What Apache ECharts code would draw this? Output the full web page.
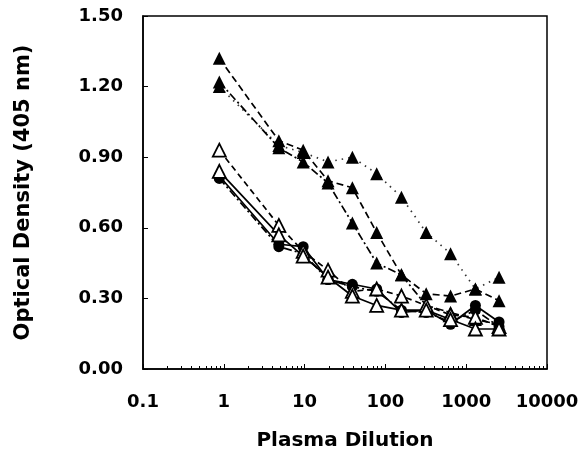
<!DOCTYPE html>
<html>
<head>
<meta charset="utf-8">
<script src="https://cdn.jsdelivr.net/npm/echarts@6/dist/echarts.min.js"></script>
<style>html,body{margin:0;padding:0;background:#fff;}#c{width:584px;height:473px;}</style>
</head>
<body>
<div id="c"></div>
<script>
// Plasma dilution (x, log scale)
var dilution = [0.88, 4.8, 9.6, 19.5, 39, 78, 158, 320, 640, 1300, 2550];
// Optical density series (405 nm)
var triDashed  = [1.32, 0.97, 0.93, 0.80, 0.77, 0.58, 0.40, 0.32, 0.31, 0.34, 0.29];
var triDashDot = [1.22, 0.94, 0.88, 0.79, 0.62, 0.45, 0.40, 0.27, 0.24, 0.21, 0.19];
var triDotted  = [1.20, 0.95, 0.92, 0.88, 0.90, 0.83, 0.73, 0.58, 0.49, 0.34, 0.39];
var openDashed = [0.93, 0.61, 0.50, 0.42, 0.33, 0.34, 0.31, 0.27, 0.23, 0.22, 0.18];
var openSolid  = [0.84, 0.57, 0.48, 0.39, 0.31, 0.27, 0.25, 0.25, 0.21, 0.17, 0.17];
var circSolid  = [0.82, 0.53, 0.52, 0.38, 0.36, 0.34, 0.24, 0.25, 0.19, 0.27, 0.20];
var circDashDot= [0.81, 0.52, 0.49, 0.38, 0.35, 0.33, 0.25, 0.24, 0.20, 0.25, 0.18];
var xTickLabels = ['0.1', '1', '10', '100', '1000', '10000'];

function pairs(ys) { return dilution.map(function (x, i) { return [x, ys[i]]; }); }

var font = '"DejaVu Sans", Verdana, sans-serif';
function mk(name, ys, symbol, filled, dash, color) {
  return {
    name: name, type: 'line', data: pairs(ys),
    symbol: symbol, symbolSize: symbol === 'circle' ? 11 : 13,
    itemStyle: { color: filled ? '#000' : '#fff', borderColor: '#000', borderWidth: filled ? 0 : 1.8 },
    lineStyle: { color: color || '#000', width: 1.7, type: dash },
    z: filled ? 3 : 4,
    animation: false
  };
}

var chart = echarts.init(document.getElementById('c'), null, { renderer: 'canvas' });
chart.setOption({
  backgroundColor: '#fff',
  animation: false,
  grid: { left: 143, right: 37, top: 16, bottom: 104, show: true, borderColor: '#000', borderWidth: 1.5, backgroundColor: 'transparent' },
  xAxis: {
    type: 'log', logBase: 10, min: 0.1, max: 10000,
    name: 'Plasma Dilution', nameLocation: 'middle', nameGap: 62,
    nameTextStyle: { fontFamily: font, fontWeight: 'bold', fontSize: 20, color: '#000' },
    axisLine: { lineStyle: { color: '#000', width: 1.5 } },
    axisTick: { inside: true, length: 5, lineStyle: { color: '#000', width: 1 } },
    minorTick: { show: true, splitNumber: 9, length: 3, lineStyle: { color: '#000', width: 1 } },
    splitLine: { show: false },
    axisLabel: {
      margin: 24, fontFamily: font, fontWeight: 'bold', fontSize: 18, color: '#000',
      formatter: function (v) {
        var e = Math.round(Math.log10(v));
        return xTickLabels[e + 1];
      }
    }
  },
  yAxis: {
    type: 'value', min: 0, max: 1.5, interval: 0.3,
    name: 'Optical Density (405 nm)', nameLocation: 'middle', nameGap: 109,
    nameTextStyle: { fontFamily: font, fontWeight: 'bold', fontSize: 21, color: '#000' },
    axisLine: { show: true, lineStyle: { color: '#000', width: 1.5 } },
    axisTick: { show: true, inside: true, length: 5, lineStyle: { color: '#000', width: 1 } },
    splitLine: { show: false },
    axisLabel: {
      margin: 20, fontFamily: font, fontWeight: 'bold', fontSize: 18, color: '#000',
      formatter: function (v) { return v.toFixed(2); }
    }
  },
  series: [
    mk('triDotted', triDotted, 'triangle', true, [1.5, 5], '#333'),
    mk('triDashed', triDashed, 'triangle', true, [7, 4]),
    mk('triDashDot', triDashDot, 'triangle', true, [8, 3, 2, 3]),
    mk('openDashed', openDashed, 'triangle', false, [6, 4]),
    mk('openSolid', openSolid, 'triangle', false, 'solid'),
    mk('circSolid', circSolid, 'circle', true, 'solid'),
    mk('circDashDot', circDashDot, 'circle', true, [8, 3, 2, 3])
  ]
});
</script>
</body>
</html>
